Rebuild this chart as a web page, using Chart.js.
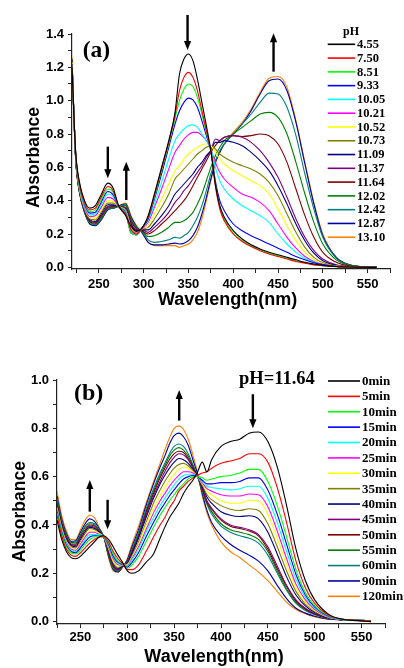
<!DOCTYPE html>
<html>
<head>
<meta charset="utf-8">
<script src="https://cdn.jsdelivr.net/npm/chart.js@4.4.1/dist/chart.umd.min.js"></script>
<style>
  html, body { margin: 0; padding: 0; background: #fff; }
  body { width: 404px; height: 668px; position: relative; overflow: hidden; }
  canvas { position: absolute; left: 0; }
  #chartA { top: 0; }
  #chartB { top: 330px; }
</style>
</head>
<body>
<canvas id="chartA" width="404" height="318"></canvas>
<canvas id="chartB" width="404" height="338"></canvas>
<script>
// ---- panel (a): pH titration ----
const wavelengthsA = [220, 224, 228, 234, 240, 246, 252, 260, 266, 272, 280, 286, 292, 298, 305, 312, 320, 328, 335, 340, 345, 350, 355, 360, 365, 370, 375, 380, 385, 390, 400, 410, 420, 430, 440, 450, 460, 470, 480, 490, 500, 515, 530, 545, 560];
const phLabels = ["4.55", "7.50", "8.51", "9.33", "10.05", "10.21", "10.52", "10.73", "11.09", "11.37", "11.64", "12.02", "12.42", "12.87", "13.10"];

const pH455 = [1.20,0.70,0.52,0.40,0.355,0.37,0.43,0.505,0.475,0.37,0.31,0.245,0.215,0.235,0.31,0.44,0.60,0.76,0.93,1.16,1.25,1.28,1.24,1.13,0.99,0.85,0.70,0.50,0.37,0.30,0.22,0.17,0.135,0.11,0.09,0.075,0.06,0.045,0.03,0.02,0.012,0.005,0.002,0.001,0];
const pH750 = [1.21,0.70,0.51,0.39,0.345,0.355,0.415,0.485,0.46,0.368,0.315,0.225,0.20,0.235,0.30,0.43,0.59,0.75,0.91,1.06,1.14,1.17,1.14,1.06,0.94,0.82,0.70,0.49,0.35,0.28,0.20,0.155,0.125,0.10,0.08,0.065,0.05,0.035,0.025,0.015,0.01,0.004,0.002,0,0];
const pH851 = [1.21,0.69,0.50,0.385,0.335,0.345,0.40,0.47,0.45,0.367,0.32,0.205,0.195,0.235,0.30,0.42,0.58,0.74,0.89,1.00,1.07,1.10,1.085,1.02,0.92,0.81,0.70,0.50,0.36,0.29,0.205,0.16,0.13,0.105,0.085,0.07,0.055,0.04,0.028,0.017,0.01,0.004,0.002,0,0];
const pH933 = [1.22,0.69,0.50,0.38,0.325,0.33,0.385,0.455,0.435,0.366,0.325,0.205,0.195,0.235,0.29,0.41,0.56,0.72,0.86,0.94,0.99,1.015,1.005,0.96,0.88,0.79,0.70,0.52,0.40,0.34,0.26,0.22,0.19,0.165,0.14,0.115,0.09,0.065,0.045,0.028,0.016,0.006,0.002,0.001,0];
const pH1005 = [1.22,0.69,0.49,0.37,0.315,0.32,0.37,0.44,0.425,0.366,0.33,0.215,0.20,0.235,0.28,0.38,0.51,0.65,0.76,0.80,0.83,0.85,0.855,0.84,0.80,0.76,0.71,0.60,0.52,0.47,0.41,0.37,0.34,0.31,0.27,0.20,0.14,0.09,0.055,0.03,0.015,0.005,0.002,0.001,0];
const pH1021 = [1.22,0.68,0.49,0.36,0.305,0.31,0.355,0.42,0.41,0.365,0.335,0.225,0.205,0.23,0.27,0.36,0.47,0.59,0.69,0.73,0.77,0.795,0.81,0.81,0.79,0.76,0.71,0.63,0.57,0.53,0.48,0.44,0.42,0.39,0.34,0.26,0.18,0.115,0.065,0.035,0.018,0.006,0.002,0.001,0];
const pH1052 = [1.23,0.68,0.48,0.355,0.30,0.295,0.34,0.40,0.395,0.365,0.34,0.235,0.21,0.23,0.255,0.32,0.41,0.50,0.58,0.61,0.65,0.68,0.70,0.72,0.735,0.74,0.73,0.69,0.65,0.62,0.58,0.55,0.52,0.49,0.44,0.35,0.25,0.16,0.09,0.045,0.022,0.007,0.003,0.001,0];
const pH1073 = [1.23,0.68,0.48,0.35,0.29,0.285,0.325,0.385,0.385,0.365,0.345,0.245,0.215,0.23,0.24,0.29,0.36,0.44,0.53,0.56,0.59,0.62,0.65,0.68,0.70,0.72,0.73,0.71,0.68,0.66,0.63,0.61,0.59,0.56,0.51,0.43,0.32,0.21,0.12,0.06,0.028,0.009,0.003,0.001,0];
const pH1109 = [1.23,0.67,0.47,0.345,0.285,0.275,0.315,0.375,0.375,0.365,0.35,0.255,0.22,0.225,0.225,0.26,0.31,0.37,0.44,0.47,0.50,0.53,0.56,0.60,0.63,0.67,0.70,0.75,0.75,0.76,0.75,0.73,0.69,0.64,0.58,0.49,0.38,0.26,0.16,0.085,0.04,0.012,0.004,0.001,0];
const pH1137 = [1.24,0.67,0.47,0.34,0.28,0.27,0.305,0.365,0.37,0.365,0.355,0.265,0.225,0.225,0.21,0.24,0.28,0.33,0.39,0.42,0.46,0.49,0.53,0.57,0.61,0.66,0.70,0.77,0.76,0.78,0.79,0.78,0.75,0.70,0.63,0.54,0.42,0.29,0.18,0.10,0.05,0.015,0.005,0.002,0];
const pH1164 = [1.24,0.67,0.47,0.34,0.275,0.265,0.30,0.36,0.365,0.365,0.36,0.275,0.23,0.22,0.20,0.22,0.26,0.30,0.34,0.37,0.40,0.44,0.49,0.54,0.59,0.64,0.69,0.73,0.76,0.78,0.79,0.785,0.79,0.80,0.79,0.74,0.63,0.47,0.31,0.18,0.09,0.03,0.008,0.003,0.001];
const pH1202 = [1.24,0.66,0.46,0.335,0.27,0.26,0.29,0.355,0.36,0.365,0.37,0.285,0.235,0.22,0.185,0.19,0.21,0.24,0.27,0.27,0.28,0.30,0.33,0.38,0.44,0.52,0.60,0.67,0.72,0.76,0.80,0.84,0.88,0.92,0.93,0.90,0.80,0.63,0.44,0.27,0.14,0.045,0.012,0.004,0.001];
const pH1242 = [1.25,0.66,0.46,0.33,0.265,0.255,0.285,0.35,0.355,0.366,0.375,0.29,0.24,0.215,0.165,0.15,0.155,0.165,0.18,0.175,0.19,0.21,0.25,0.30,0.37,0.46,0.56,0.64,0.70,0.74,0.80,0.86,0.92,0.99,1.045,1.04,0.96,0.79,0.56,0.35,0.18,0.055,0.014,0.004,0.001];
const pH1287 = [1.25,0.66,0.46,0.33,0.26,0.25,0.28,0.345,0.355,0.367,0.38,0.30,0.245,0.21,0.15,0.135,0.135,0.14,0.145,0.14,0.145,0.16,0.19,0.24,0.32,0.42,0.53,0.63,0.69,0.74,0.80,0.86,0.94,1.04,1.12,1.13,1.06,0.87,0.62,0.38,0.19,0.06,0.015,0.004,0.001];
const pH1310 = [1.26,0.66,0.46,0.33,0.26,0.25,0.28,0.345,0.355,0.368,0.385,0.31,0.25,0.21,0.15,0.13,0.13,0.13,0.13,0.12,0.13,0.14,0.165,0.21,0.29,0.40,0.52,0.62,0.69,0.74,0.81,0.87,0.95,1.05,1.135,1.145,1.08,0.88,0.63,0.39,0.20,0.06,0.015,0.004,0.001];

// ---- panel (b): time course at pH 11.64 ----
const wavelengthsB = [225, 230, 235, 240, 245, 250, 255, 260, 265, 270, 275, 280, 285, 290, 295, 300, 305, 312, 320, 328, 335, 340, 345, 350, 355, 360, 365, 370, 375, 380, 385, 390, 400, 410, 420, 430, 440, 450, 460, 470, 480, 490, 500, 515, 530, 545, 560];
const timeLabels = ["0min", "5min", "10min", "15min", "20min", "25min", "30min", "35min", "40min", "45min", "50min", "55min", "60min", "90min", "120min"];

const t0 = [0.42,0.34,0.29,0.265,0.26,0.27,0.29,0.31,0.33,0.35,0.355,0.34,0.31,0.275,0.245,0.21, 0.20,0.21,0.245,0.28,0.345,0.39,0.43,0.46,0.49,0.53,0.56,0.585,0.62,0.66,0.62,0.67, 0.725,0.745,0.755,0.78,0.785,0.745,0.64,0.48,0.30,0.17,0.09, 0.03,0.01,0.004,0];
const t5 = [0.44,0.355,0.30,0.275,0.27,0.285,0.305,0.325,0.34,0.35,0.35,0.33,0.29,0.26,0.24,0.215, 0.215,0.235,0.29,0.35,0.40,0.43,0.47,0.50,0.54,0.56,0.58,0.595,0.605,0.615,0.62,0.635, 0.655,0.665,0.675,0.695,0.695,0.66,0.555,0.41,0.25,0.14,0.075, 0.026,0.01,0.005,0.003];
const t10 = [0.45,0.365,0.31,0.285,0.28,0.295,0.32,0.34,0.35,0.355,0.35,0.325,0.28,0.25,0.238,0.22, 0.235,0.27,0.33,0.39,0.44,0.47,0.50,0.525,0.55,0.57,0.59,0.60,0.60,0.595,0.585,0.59, 0.60,0.605,0.615,0.63,0.63,0.58,0.48,0.35,0.215,0.12,0.065, 0.024,0.009,0.005,0.004];
const t15 = [0.455,0.37,0.315,0.29,0.285,0.305,0.33,0.35,0.355,0.355,0.35,0.32,0.27,0.245,0.236,0.225, 0.245,0.285,0.35,0.41,0.46,0.49,0.52,0.545,0.57,0.59,0.60,0.605,0.60,0.585,0.57,0.57, 0.575,0.575,0.58,0.595,0.595,0.545,0.445,0.32,0.195,0.11,0.06, 0.022,0.009,0.005,0.004];
const t20 = [0.46,0.375,0.32,0.295,0.29,0.31,0.34,0.36,0.36,0.36,0.35,0.315,0.265,0.24,0.235,0.23, 0.255,0.30,0.37,0.43,0.48,0.51,0.54,0.565,0.59,0.605,0.61,0.61,0.60,0.58,0.56,0.555, 0.55,0.545,0.55,0.56,0.56,0.51,0.41,0.29,0.175,0.10,0.055, 0.02,0.008,0.005,0.004];
const t25 = [0.465,0.38,0.325,0.30,0.295,0.32,0.35,0.37,0.37,0.36,0.35,0.31,0.26,0.235,0.234,0.232, 0.26,0.31,0.38,0.45,0.50,0.53,0.56,0.585,0.605,0.62,0.62,0.615,0.60,0.575,0.55,0.54, 0.525,0.52,0.52,0.528,0.525,0.475,0.375,0.26,0.155,0.09,0.05, 0.019,0.008,0.005,0.004];
const t30 = [0.47,0.385,0.33,0.305,0.30,0.325,0.355,0.375,0.375,0.365,0.35,0.305,0.25,0.23,0.233,0.235, 0.265,0.32,0.40,0.47,0.52,0.555,0.585,0.61,0.63,0.64,0.635,0.62,0.60,0.57,0.54,0.525, 0.50,0.49,0.49,0.502,0.50,0.445,0.345,0.235,0.14,0.08,0.046, 0.018,0.008,0.005,0.004];
const t35 = [0.475,0.39,0.335,0.31,0.305,0.33,0.365,0.385,0.38,0.365,0.35,0.30,0.245,0.225,0.232,0.238, 0.27,0.33,0.41,0.49,0.545,0.58,0.61,0.635,0.65,0.655,0.645,0.625,0.60,0.565,0.525,0.505, 0.48,0.465,0.46,0.467,0.46,0.405,0.31,0.21,0.125,0.072,0.042, 0.017,0.008,0.005,0.004];
const t40 = [0.48,0.395,0.34,0.315,0.31,0.34,0.37,0.39,0.385,0.37,0.35,0.295,0.24,0.22,0.231,0.24, 0.28,0.345,0.43,0.51,0.57,0.605,0.635,0.66,0.675,0.67,0.655,0.63,0.60,0.56,0.515,0.49, 0.455,0.44,0.435,0.438,0.425,0.37,0.28,0.185,0.11,0.065,0.038, 0.016,0.007,0.005,0.004];
const t45 = [0.485,0.40,0.345,0.318,0.315,0.345,0.375,0.395,0.39,0.37,0.35,0.29,0.235,0.215,0.23,0.243, 0.285,0.35,0.44,0.52,0.58,0.62,0.655,0.68,0.695,0.69,0.67,0.635,0.60,0.555,0.50,0.47, 0.425,0.40,0.39,0.38,0.36,0.31,0.23,0.15,0.09,0.055,0.033, 0.014,0.007,0.005,0.004];
const t50 = [0.49,0.405,0.35,0.32,0.32,0.35,0.38,0.40,0.395,0.375,0.35,0.285,0.23,0.215,0.23,0.245, 0.29,0.355,0.45,0.53,0.595,0.635,0.67,0.695,0.705,0.70,0.675,0.64,0.60,0.55,0.495,0.465, 0.42,0.395,0.385,0.375,0.355,0.30,0.22,0.145,0.085,0.052,0.031, 0.014,0.007,0.005,0.004];
const t55 = [0.50,0.41,0.355,0.325,0.325,0.355,0.39,0.405,0.40,0.375,0.35,0.28,0.225,0.21,0.229,0.248, 0.295,0.36,0.455,0.54,0.605,0.645,0.685,0.71,0.72,0.71,0.685,0.645,0.60,0.545,0.49,0.455, 0.405,0.38,0.37,0.36,0.34,0.29,0.21,0.135,0.08,0.05,0.03, 0.013,0.007,0.005,0.004];
const t60 = [0.51,0.415,0.36,0.328,0.33,0.36,0.395,0.41,0.405,0.38,0.35,0.275,0.22,0.21,0.228,0.25, 0.30,0.37,0.465,0.55,0.615,0.655,0.695,0.725,0.735,0.725,0.695,0.65,0.60,0.54,0.485,0.445, 0.395,0.37,0.355,0.345,0.325,0.275,0.20,0.13,0.075,0.046,0.028, 0.012,0.007,0.005,0.004];
const t90 = [0.52,0.425,0.365,0.332,0.335,0.37,0.405,0.425,0.415,0.385,0.35,0.27,0.215,0.205,0.226,0.255, 0.31,0.38,0.48,0.57,0.64,0.685,0.735,0.77,0.78,0.765,0.73,0.67,0.61,0.53,0.46,0.41, 0.355,0.32,0.295,0.275,0.25,0.21,0.15,0.095,0.055,0.035,0.022, 0.01,0.007,0.005,0];
const t120 = [0.54,0.44,0.375,0.34,0.34,0.38,0.42,0.44,0.43,0.39,0.35,0.265,0.21,0.205,0.225,0.26, 0.32,0.395,0.49,0.58,0.655,0.71,0.76,0.80,0.81,0.795,0.755,0.69,0.615,0.52,0.45,0.40, 0.33,0.29,0.265,0.235,0.205,0.17,0.125,0.08,0.05,0.032,0.019, 0.01,0.007,0.005,0.004];

const seriesA = [pH455, pH750, pH851, pH933, pH1005, pH1021, pH1052, pH1073, pH1109, pH1137, pH1164, pH1202, pH1242, pH1287, pH1310];
const seriesB = [t0, t5, t10, t15, t20, t25, t30, t35, t40, t45, t50, t55, t60, t90, t120];

// Origin-like line colours
const lineColors = ["#000000", "#FF0000", "#00FF00", "#0000FF", "#00FFFF", "#FF00FF", "#FFFF00", "#808000", "#000080", "#800080", "#800000", "#008000", "#008080", "#0000A0", "#FF8000"];

const SANS = "'Liberation Sans', Arial, sans-serif";
const SERIF = "'Liberation Serif', 'Times New Roman', serif";

// draws legend, panel labels, axis titles and arrows
const panelDecor = {
  id: "panelDecor",
  afterDraw(chart, args, opts) {
    const ctx = chart.ctx;
    const xs = chart.scales.x, ys = chart.scales.y;
    ctx.save();

    // legend
    const lg = opts.legend;
    ctx.textAlign = "left";
    ctx.textBaseline = "middle";
    if (lg.title) {
      ctx.fillStyle = "#000";
      ctx.font = lg.titleFont;
      ctx.textAlign = "center";
      ctx.fillText(lg.title, lg.titleX, lg.titleY);
      ctx.textAlign = "left";
    }
    chart.data.datasets.forEach((ds, i) => {
      const y = lg.y0 + i * lg.dy;
      ctx.strokeStyle = ds.borderColor;
      ctx.lineWidth = 1.6;
      ctx.beginPath();
      ctx.moveTo(lg.x, y);
      ctx.lineTo(lg.x + lg.len, y);
      ctx.stroke();
      ctx.fillStyle = "#000";
      ctx.font = lg.font;
      ctx.fillText(ds.label, lg.textX, y + 0.5);
    });

    // arrows
    opts.arrows.forEach(a => {
      const x = xs.getPixelForValue(a.x);
      const y1 = ys.getPixelForValue(a.from);
      const y2 = ys.getPixelForValue(a.to);
      const dir = y2 > y1 ? 1 : -1;
      ctx.strokeStyle = "#000";
      ctx.fillStyle = "#000";
      ctx.lineWidth = 2.4;
      ctx.beginPath();
      ctx.moveTo(x, y1);
      ctx.lineTo(x, y2 - dir * 8);
      ctx.stroke();
      ctx.beginPath();
      ctx.moveTo(x, y2);
      ctx.lineTo(x - 3.6, y2 - dir * 9);
      ctx.lineTo(x + 3.6, y2 - dir * 9);
      ctx.closePath();
      ctx.fill();
    });

    // texts
    opts.texts.forEach(t => {
      ctx.save();
      ctx.fillStyle = "#000";
      ctx.font = t.font;
      ctx.textAlign = t.align || "left";
      ctx.textBaseline = "alphabetic";
      ctx.translate(t.x, t.y);
      if (t.rotate) ctx.rotate(t.rotate);
      ctx.fillText(t.text, 0, 0);
      ctx.restore();
    });

    ctx.restore();
  }
};

function yLabel(v) {
  const r = Math.round(v * 10);
  return r % 2 === 0 ? (r / 10).toFixed(1) : "";
}

function makeChart(id, wl, series, labels, cfg) {
  const ctx = document.getElementById(id).getContext("2d");
  return new Chart(ctx, {
    type: "line",
    data: {
      datasets: series.map((s, i) => ({
        label: labels[i],
        data: s.map((v, k) => ({ x: wl[k], y: v })),
        borderColor: lineColors[i],
        borderWidth: 1.1,
        pointRadius: 0,
        fill: false,
        cubicInterpolationMode: "monotone"
      }))
    },
    options: {
      responsive: false,
      animation: false,
      events: [],
      layout: { padding: { left: 0, top: cfg.top, right: cfg.right, bottom: 0 } },
      scales: {
        x: {
          type: "linear",
          min: cfg.xMin,
          max: 575,
          // major ticks every 50, minor every 25
          afterBuildTicks: sc => {
            const ticks = [];
            for (let v = Math.ceil(cfg.xMin / 25) * 25; v <= 575; v += 25) ticks.push({ value: v });
            sc.ticks = ticks;
          },
          afterFit: sc => { sc.height = cfg.xHeight; },
          ticks: {
            autoSkip: false,
            maxRotation: 0,
            padding: cfg.xPad,
            color: "#000",
            font: { family: SANS, weight: "bold", size: 13 },
            callback: v => (v % 50 === 0 ? String(v) : "")
          },
          grid: { drawOnChartArea: false, drawTicks: true, tickLength: 4, color: "#222" },
          border: { color: "#222", width: 1.2 }
        },
        y: {
          min: -0.01,
          max: cfg.yMax,
          // major ticks every 0.2, minor every 0.1
          afterBuildTicks: sc => {
            const ticks = [];
            for (let k = 0; k <= Math.round(cfg.yMax * 10); k++) ticks.push({ value: k / 10 });
            sc.ticks = ticks;
          },
          afterFit: sc => { sc.width = cfg.yWidth; },
          ticks: {
            autoSkip: false,
            padding: 4,
            color: "#000",
            font: { family: SANS, weight: "bold", size: 13 },
            callback: yLabel
          },
          grid: { drawOnChartArea: false, drawTicks: true, tickLength: 4, color: "#222" },
          border: { color: "#222", width: 1.2 }
        }
      },
      plugins: {
        legend: { display: false },
        tooltip: { enabled: false },
        panelDecor: cfg.decor
      }
    },
    plugins: [panelDecor]
  });
}

makeChart("chartA", wavelengthsA, seriesA, phLabels, {
  top: 34, right: 14, xMin: 220, yMax: 1.4, xHeight: 49, yWidth: 72, xPad: 4,
  decor: {
    legend: {
      title: "pH", titleFont: "bold 12px " + SERIF, titleX: 351, titleY: 32,
      x: 327.7, len: 27.5, textX: 357, y0: 44.3, dy: 13.78, font: "bold 12.5px " + SERIF
    },
    arrows: [
      { x: 260, from: 0.724, to: 0.534 },
      { x: 280.6, from: 0.404, to: 0.634 },
      { x: 349, from: 1.514, to: 1.304 },
      { x: 445, from: 1.174, to: 1.405 }
    ],
    texts: [
      { text: "(a)", x: 82.7, y: 57, font: "bold 23.5px " + SERIF },
      { text: "Absorbance", x: 39.3, y: 157.5, align: "center", rotate: -Math.PI / 2, font: "bold 17.5px " + SANS },
      { text: "Wavelength(nm)", x: 227.6, y: 305, align: "center", font: "bold 18px " + SANS }
    ]
  }
});

makeChart("chartB", wavelengthsB, seriesB, timeLabels, {
  top: 50, right: 19, xMin: 225, yMax: 1.0, xHeight: 44, yWidth: 57, xPad: 2,
  decor: {
    legend: {
      title: "", x: 328, len: 32, textX: 362, y0: 51, dy: 15.38, font: "bold 13px " + SERIF
    },
    arrows: [
      { x: 260, from: 0.455, to: 0.586 },
      { x: 279, from: 0.504, to: 0.382 },
      { x: 355.4, from: 0.832, to: 0.959 },
      { x: 434, from: 0.941, to: 0.80 }
    ],
    texts: [
      { text: "(b)", x: 74, y: 70, font: "bold 24px " + SERIF },
      { text: "pH=11.64", x: 239, y: 54, font: "bold 18.5px " + SERIF },
      { text: "Absorbance", x: 25, y: 181.7, align: "center", rotate: -Math.PI / 2, font: "bold 17.5px " + SANS },
      { text: "Wavelength(nm)", x: 214, y: 331.5, align: "center", font: "bold 18px " + SANS }
    ]
  }
});
</script>
</body>
</html>
